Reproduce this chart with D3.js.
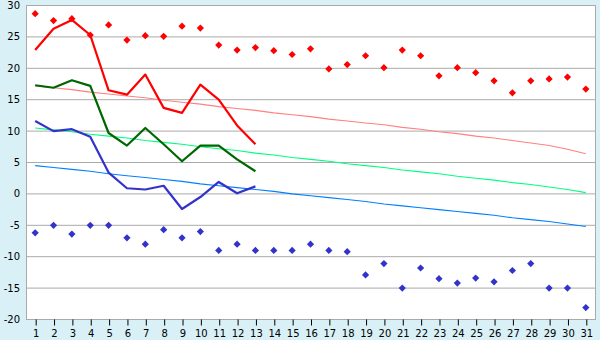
<!DOCTYPE html>
<html>
<head>
<meta charset="utf-8">
<script src="https://cdn.jsdelivr.net/npm/d3@7"></script>
<style>
  body { margin: 0; background: #d9f0f7; }
  svg { display: block; font-family: "DejaVu Sans", sans-serif; }
  .axis text { font-size: 10px; fill: #000; }
  .grid line { stroke: #aaa; }
</style>
</head>
<body>
<svg id="chart" width="600" height="340"></svg>
<script>
// days of the month
const days = d3.range(1, 32);

// record highs / lows per day (diamonds)
const recordMax = [28.7, 27.6, 27.9, 25.3, 26.9, 24.5, 25.2, 25.1, 26.7, 26.4, 23.7, 22.9, 23.3, 22.8, 22.2, 23.1,
  19.9, 20.6, 22.0, 20.1, 22.9, 22.0, 18.8, 20.1, 19.3, 18.0, 16.1, 18.0, 18.3, 18.6, 16.7];
const recordMin = [-6.2, -5.0, -6.4, -5.0, -5.0, -7.0, -8.0, -5.7, -7.0, -6.0, -9.0, -8.0, -9.0, -9.0, -9.0, -8.0,
  -9.0, -9.2, -12.9, -11.1, -15.0, -11.8, -13.5, -14.2, -13.4, -14.0, -12.2, -11.1, -15.0, -15.0, -18.1];

// observed values, first 13 days
const obsMax = [22.9, 26.3, 27.7, 25.3, 16.5, 15.8, 19.0, 13.7, 12.9, 17.4, 15.0, 10.9, 7.9];
const obsMean = [17.3, 16.9, 18.1, 17.2, 9.7, 7.7, 10.5, 7.9, 5.2, 7.7, 7.7, 5.5, 3.6];
const obsMin = [11.6, 10.0, 10.3, 9.1, 3.4, 0.9, 0.7, 1.3, -2.4, -0.5, 1.9, 0.1, 1.2];

// normals
const normMax = [17.2, 16.9, 16.6, 16.2, 15.9, 15.6, 15.3, 14.9, 14.6, 14.3, 13.9, 13.6, 13.3, 12.9, 12.6, 12.3,
  11.9, 11.6, 11.3, 11.0, 10.6, 10.3, 9.9, 9.6, 9.2, 8.9, 8.5, 8.1, 7.7, 7.1, 6.4];
const normMean = [10.5, 10.2, 9.9, 9.5, 9.2, 8.9, 8.5, 8.2, 7.9, 7.5, 7.2, 6.9, 6.5, 6.2, 5.8, 5.5,
  5.2, 4.8, 4.5, 4.2, 3.8, 3.5, 3.2, 2.8, 2.5, 2.2, 1.8, 1.5, 1.1, 0.7, 0.2];
const normMin = [4.5, 4.2, 3.9, 3.6, 3.2, 2.9, 2.6, 2.3, 2.0, 1.6, 1.3, 1.0, 0.7, 0.4, 0.0, -0.3,
  -0.6, -0.9, -1.2, -1.6, -1.9, -2.2, -2.5, -2.8, -3.1, -3.4, -3.8, -4.1, -4.4, -4.8, -5.2];

const yTicks = [-20, -15, -10, -5, 0, 5, 10, 15, 20, 25, 30];

const svg = d3.select('#chart');
const plotLeft = 26, plotRight = 595, plotTop = 5, plotBottom = 319;

svg.append('rect')
  .attr('x', plotLeft).attr('y', plotTop)
  .attr('width', plotRight - plotLeft).attr('height', plotBottom - plotTop)
  .attr('fill', '#fff');

const x = d3.scalePoint()
  .domain(days)
  .range([plotLeft, plotRight])
  .padding(0.5);

const y = d3.scaleLinear()
  .domain([-20, 30])
  .range([plotBottom + 0.5, plotTop + 0.5]);

// horizontal grid
svg.append('g')
  .attr('class', 'grid')
  .selectAll('line')
  .data(yTicks)
  .join('line')
    .attr('x1', plotLeft).attr('x2', plotRight)
    .attr('y1', d => y(d)).attr('y2', d => y(d));

// frame: left axis and right border
svg.append('line')
  .attr('x1', plotLeft + 0.5).attr('x2', plotLeft + 0.5)
  .attr('y1', plotTop).attr('y2', plotBottom + 1)
  .attr('stroke', '#aaa');
svg.append('line')
  .attr('x1', plotRight + 0.5).attr('x2', plotRight + 0.5)
  .attr('y1', plotTop).attr('y2', plotBottom + 1)
  .attr('stroke', '#aaa');

// y labels
svg.append('g')
  .attr('class', 'axis')
  .selectAll('text')
  .data(yTicks)
  .join('text')
    .attr('x', plotLeft - 6)
    .attr('y', d => y(d))
    .attr('dy', '0.35em')
    .attr('text-anchor', 'end')
    .text(d => d);

// x axis
const xAxis = d3.axisBottom(x).tickSize(6).tickPadding(4);
const xg = svg.append('g')
  .attr('class', 'axis')
  .attr('transform', `translate(0.5, ${plotBottom + 0.5})`)
  .call(xAxis);
xg.select('.domain').remove();
xg.selectAll('.tick line').attr('stroke', '#000');
xg.selectAll('.tick text').attr('font-size', 10).attr('font-family', '"DejaVu Sans", sans-serif');

const line = d3.line()
  .x((d, i) => x(days[i]))
  .y(d => y(d));

// normals
const normals = [
  { values: normMax, color: '#ff8080' },
  { values: normMean, color: '#00ff80' },
  { values: normMin, color: '#0080ff' }
];
normals.forEach((s) => {
  svg.append('path')
    .attr('d', line(s.values))
    .attr('fill', 'none')
    .attr('stroke', s.color)
    .attr('stroke-width', 1.1);
});

// observed lines
const observed = [
  { values: obsMax, color: '#ff0000' },
  { values: obsMean, color: '#006600' },
  { values: obsMin, color: '#3333cc' }
];
observed.forEach((s) => {
  svg.append('path')
    .attr('d', line(s.values))
    .attr('fill', 'none')
    .attr('stroke', s.color)
    .attr('stroke-width', 2.2)
    .attr('stroke-linejoin', 'round');
});

// record markers: square turned 45 degrees
const diamond = d3.symbol().type(d3.symbolSquare).size(26);
const records = [
  { values: recordMax, color: '#ff0000' },
  { values: recordMin, color: '#3333cc' }
];
records.forEach((s) => {
  svg.append('g')
    .selectAll('path')
    .data(s.values)
    .join('path')
      .attr('d', diamond)
      .attr('transform', (d, i) => `translate(${x(days[i])}, ${y(d)}) rotate(45)`)
      .attr('fill', s.color);
});
</script>
</body>
</html>
